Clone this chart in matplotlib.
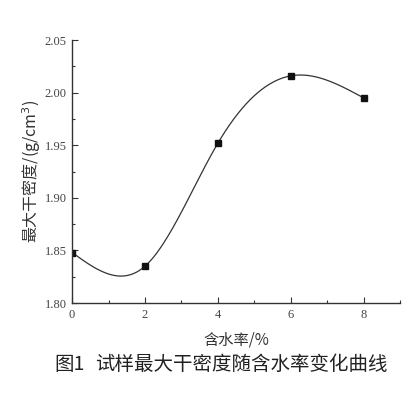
import numpy as np
import matplotlib
matplotlib.use("Agg")
import matplotlib.pyplot as plt
from matplotlib.ticker import MultipleLocator

water = [0, 2, 4, 6, 8]
density = [1.848, 1.835, 1.952, 2.016, 1.995]
xticks = [0, 2, 4, 6, 8]
yticks = [1.80, 1.85, 1.90, 1.95, 2.00, 2.05]

def natural_spline(x, y, xs):
    x = np.asarray(x, float); y = np.asarray(y, float)
    n = len(x)
    h = np.diff(x)
    A = np.zeros((n, n)); b = np.zeros(n)
    A[0, 0] = 1; A[-1, -1] = 1
    for i in range(1, n - 1):
        A[i, i - 1] = h[i - 1]
        A[i, i] = 2 * (h[i - 1] + h[i])
        A[i, i + 1] = h[i]
        b[i] = 3 * ((y[i + 1] - y[i]) / h[i] - (y[i] - y[i - 1]) / h[i - 1])
    c = np.linalg.solve(A, b)
    out = np.empty_like(xs)
    for k, xv in enumerate(xs):
        i = min(np.searchsorted(x, xv, side='right') - 1, n - 2)
        i = max(i, 0)
        dx = xv - x[i]
        bi = (y[i + 1] - y[i]) / h[i] - h[i] * (2 * c[i] + c[i + 1]) / 3
        di = (c[i + 1] - c[i]) / (3 * h[i])
        out[k] = y[i] + bi * dx + c[i] * dx ** 2 + di * dx ** 3
    return out

cjk = ['Noto Sans CJK SC', 'DejaVu Sans']

fig = plt.figure(figsize=(4.05, 3.93), dpi=100)
ax = fig.add_axes([0.178, 0.229, 0.81, 0.669])

xs = np.linspace(water[0], water[-1], 400)
ax.plot(xs, natural_spline(water, density, xs), color='#333333', lw=0.9)
ax.plot(water, density, 's', color='#111111', ms=4.5)

ax.set_xlim(0, 9)
ax.set_ylim(1.80, 2.05)
ax.set_xticks(xticks)
ax.set_yticks(yticks)
ax.xaxis.set_minor_locator(MultipleLocator(1))
ax.yaxis.set_minor_locator(MultipleLocator(0.025))
ax.set_xticklabels([str(v) for v in xticks], family='Liberation Serif', fontsize=9, color='#444444')
ax.set_yticklabels([f"{v:.2f}" for v in yticks], family='Liberation Serif', fontsize=9, color='#444444')
ax.tick_params(which='major', direction='in', length=4, width=0.8, color='#333333', pad=4)
ax.tick_params(which='minor', direction='in', length=2.5, width=0.8, color='#333333')
for s in ['top', 'right']:
    ax.spines[s].set_visible(False)
for s in ['left', 'bottom']:
    ax.spines[s].set_color('#333333')
    ax.spines[s].set_linewidth(1.0)

ax.set_ylabel('最大干密度/(g/cm$^3$)', family=cjk, fontsize=11.5, color='#333333', labelpad=1)
ax.set_xlabel('含水率/%', family=cjk, fontsize=11, color='#333333', labelpad=8)

fig.text(0.135, 0.072, '图1', family=cjk, fontsize=14, fontweight='medium',
         ha='left', va='center', color='#222222')
fig.text(0.595, 0.072, '试样最大干密度随含水率变化曲线', family=cjk, fontsize=14, fontweight='medium',
         ha='center', va='center', color='#222222')

fig.savefig('out.png', dpi=100)
